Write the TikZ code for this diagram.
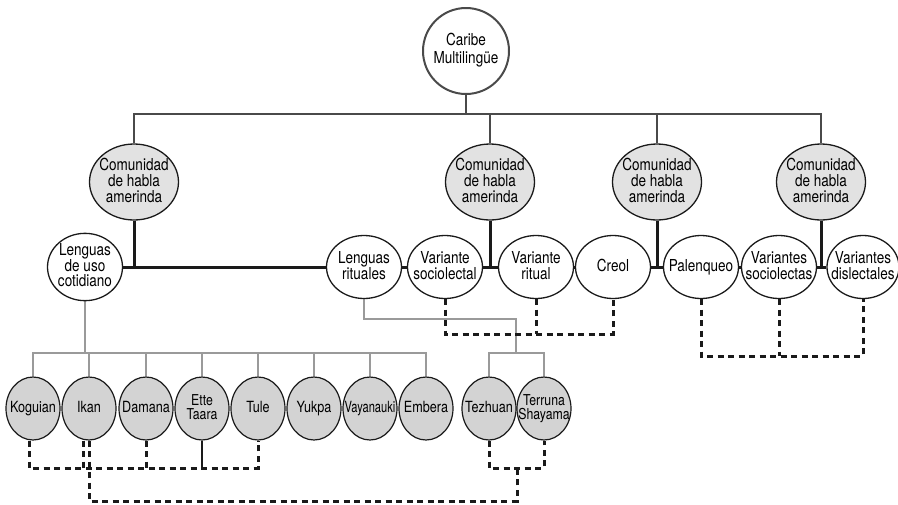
\documentclass[tikz,border=0pt]{standalone}
\usepackage{fontspec}
\setmainfont{TeX Gyre Heros}[FakeStretch=0.82]
\usetikzlibrary{shapes.geometric,backgrounds}
\definecolor{topgray}{HTML}{4A4A4A}
\definecolor{commfill}{HTML}{E2E2E2}
\definecolor{leaffill}{HTML}{D3D3D3}
\definecolor{linegray}{HTML}{9A9A9A}
\definecolor{inkblack}{HTML}{1A1A1A}
\newcommand{\lbltext}[1]{\makebox[0pt]{\begin{tabular}{@{}c@{}}#1\end{tabular}}}
\begin{document}
\begin{tikzpicture}[x=1pt,y=-1pt,
  topcirc/.style={ellipse,draw=topgray,line width=2pt,fill=white,minimum width=86pt,minimum height=86pt,inner sep=0pt,font=\fontsize{16.5}{18}\selectfont},
  comm/.style={ellipse,draw=inkblack,line width=1.3pt,fill=commfill,minimum width=89pt,minimum height=76pt,inner sep=0pt,font=\fontsize{16.5}{13}\selectfont},
  midnode/.style={ellipse,draw=inkblack,line width=1.3pt,fill=white,minimum width=75pt,minimum height=63pt,inner sep=0pt,font=\fontsize{16.5}{12.8}\selectfont},
  leaf/.style={ellipse,draw=inkblack,line width=1.2pt,fill=leaffill,minimum width=54pt,minimum height=63pt,inner sep=0pt,font=\fontsize{15.4}{12}\selectfont},
  leafsmall/.style={leaf,font=\fontsize{15}{11.2}\selectfont},
  topline/.style={draw=topgray,line width=2.5pt},
  midline/.style={draw=inkblack,line width=3pt},
  grayline/.style={draw=linegray,line width=2.5pt},
  dashline/.style={draw=inkblack,line width=3pt,dash pattern=on 6pt off 4.5pt},
  solidline/.style={draw=inkblack,line width=2.4pt}
]
\useasboundingbox (0,0) rectangle (898,504);

% level 0
\node[topcirc] (car) at (466,51) {\lbltext{Caribe\\Multilingüe}};

% level 1
\node[comm] (c1) at (134,182) {\lbltext{Comunidad\\de habla\\amerinda}};
\node[comm] (c2) at (490,182) {\lbltext{Comunidad\\de habla\\amerinda}};
\node[comm] (c3) at (657,182) {\lbltext{Comunidad\\de habla\\amerinda}};
\node[comm] (c4) at (821,182) {\lbltext{Comunidad\\de habla\\amerinda}};

% level 2
\node[midnode] (luc) at (85,267) {\lbltext{Lenguas\\de uso\\cotidiano}};
\node[midnode] (lr) at (364,267) {\lbltext{Lenguas\\rituales}};
\node[midnode] (vs) at (445,267) {\lbltext{Variante\\sociolectal}};
\node[midnode] (vr) at (536,267) {\lbltext{Variante\\ritual}};
\node[midnode] (cr) at (613,267) {\lbltext{Creol}};
\node[midnode] (pa) at (701,267) {\lbltext{Palenqueo}};
\node[midnode] (vss) at (779,267) {\lbltext{Variantes\\sociolectas}};
\node[midnode,minimum width=72pt] (vd) at (863,267) {\lbltext{Variantes\\dislectales}};

% level 3
\node[leaf] (k1) at (33,408.5) {\lbltext{Koguian}};
\node[leaf] (k2) at (89,408.5) {\lbltext{Ikan}};
\node[leaf] (k3) at (146,408.5) {\lbltext{Damana}};
\node[leafsmall] (k4) at (202,408.5) {\lbltext{Ette\\Taara}};
\node[leaf] (k5) at (258,408.5) {\lbltext{Tule}};
\node[leaf] (k6) at (314,408.5) {\lbltext{Yukpa}};
\node[leaf] (k7) at (370,408.5) {\lbltext{\scalebox{0.88}[1]{Vayanauki}}};
\node[leaf] (k8) at (426,408.5) {\lbltext{Embera}};
\node[leaf] (tz) at (489,408.5) {\lbltext{Tezhuan}};
\node[leafsmall] (ts) at (544,408.5) {\lbltext{Terruna\\Shayama}};

\coordinate (bus) at (466,114);
\coordinate (gbus) at (0,353);
\coordinate (rj) at (516,319);
\coordinate (dA) at (0,334);
\coordinate (dB) at (0,356);
\coordinate (dC) at (0,468);
\coordinate (bj) at (517,468);
\coordinate (dD) at (517,501);

\begin{pgfonlayer}{background}
  % top tree
  \draw[topline] (car.south) -- (bus);
  \draw[topline] (c1.north) -- (c1.north |- bus) -- (c4.north |- bus) -- (c4.north);
  \draw[topline] (c2.north) -- (c2.north |- bus);
  \draw[topline] (c3.north) -- (c3.north |- bus);
  % middle chain
  \draw[midline] (luc) -- (lr) -- (vs) -- (vr) -- (cr) -- (pa) -- (vss) -- (vd);
  \draw[midline] (c1.south) -- (c1.south |- luc.center);
  \draw[midline] (c2.south) -- (c2.south |- vs.center);
  \draw[midline] (c3.south) -- (c3.south |- cr.center);
  \draw[midline] (c4.south) -- (c4.south |- vss.center);
  % gray tree
  \draw[grayline] (luc.south) -- (luc.south |- gbus);
  \draw[grayline] (k1.north) -- (k1.north |- gbus) -- (k8.north |- gbus) -- (k8.north);
  \foreach \k in {k2,k3,k4,k5,k6,k7} \draw[grayline] (\k.north) -- (\k.north |- gbus);
  \draw[grayline] (lr.south) |- (rj) -- (rj |- gbus);
  \draw[grayline] (tz.north) -- (tz.north |- gbus) -- (ts.north |- gbus) -- (ts.north);
  % dashed groups
  \draw[dashline] (vs.south) -- (vs.south |- dA) -- (cr.south |- dA) -- (cr.south);
  \draw[dashline] (vr.south) -- (vr.south |- dA);
  \draw[dashline] (pa.south) -- (pa.south |- dB) -- (vd.south |- dB) -- (vd.south);
  \draw[dashline] (vss.south) -- (vss.south |- dB);
  \draw[dashline] ([xshift=-4pt]k1.south) -- ([xshift=-4pt]k1.south |- dC) -- (k5.south |- dC) -- (k5.south);
  \draw[dashline] ([xshift=-6pt]k2.south) -- ([xshift=-6pt]k2.south |- dC);
  \draw[dashline] (k3.south) -- (k3.south |- dC);
  \draw[solidline] (k4.south) -- (k4.south |- dC);
  \draw[dashline] (k2.south) -- (k2.south |- dD) -- (dD) -- (bj);
  \draw[dashline] (tz.south) -- (tz.south |- bj) -- (ts.south |- bj) -- (ts.south);
\end{pgfonlayer}
\end{tikzpicture}
\end{document}
